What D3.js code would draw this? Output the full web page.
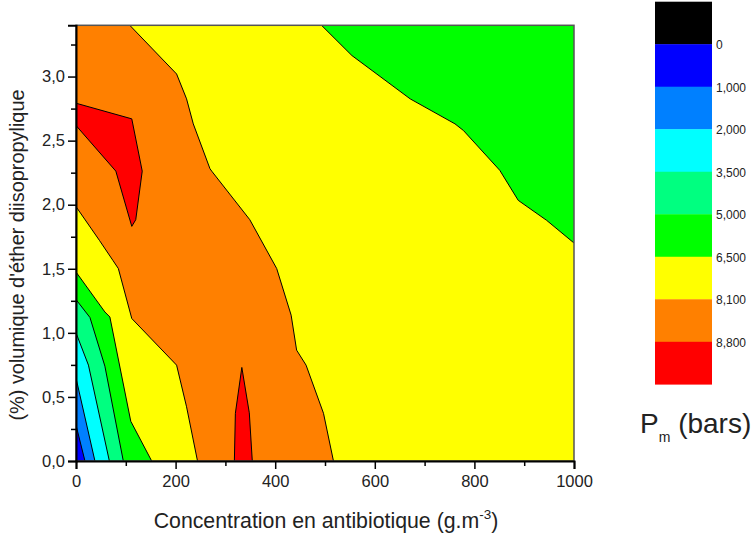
<!DOCTYPE html>
<html><head><meta charset="utf-8">
<script src="https://cdn.jsdelivr.net/npm/d3@7"></script>
<style>body{margin:0;background:#fff}svg{display:block}text{font-family:"Liberation Sans",Arial,Helvetica,sans-serif}</style>
</head><body><svg id="c" width="751" height="536"></svg>
<script>
// ---- data ----
const xTicks = [0, 200, 400, 600, 800, 1000];
const xMinor = [100, 300, 500, 700, 900];
const yTicks = [0, 0.5, 1.0, 1.5, 2.0, 2.5, 3.0];
const yMinor = [0.25, 0.75, 1.25, 1.75, 2.25, 2.75, 3.25];
const legendLabels = ["0", "1,000", "2,000", "3,500", "5,000", "6,500", "8,100", "8,800"];
const legendColors = ["#000000", "#0000ff", "#0080ff", "#00ffff", "#00ff80", "#00ff00", "#ffff00", "#ff8000", "#ff0000"];

// contour lines [concentration, % volume]
const c8100Right = [[108,3.4],[202,3.02],[222,2.826],[235.5,2.631],[269,2.281],[272.5,2.262],[349,1.883],[403,1.502],[432,1.138],[443,0.865],[462,0.748],[497,0.372],[517,0]];
const c8100Left = [[0,1.985],[47,1.722],[74,1.566],[85,1.502],[112,1.112],[202,0.748],[222,0.423],[244,0]];
const c8800TopLeft = [[0,2.792],[112,2.67],[133,2.262],[120,1.883],[112,1.831],[80,2.262],[0,2.618]];
const c8800Spike = [[318,0],[320,0.372],[333,0.73],[348,0.376],[354,0]];
const c6500Right = [[493,3.4],[554,3.164],[671,2.826],[761,2.631],[778,2.579],[851,2.268],[888,2.034],[945,1.878],[1000,1.701]];
const c6500Left = [[0,1.475],[58,1.163],[68,1.124],[110,0.31],[152,0]];
const c5000 = [[0,1.26],[28,1.12],[58,0.74],[95,0]];
const c3500 = [[0,1.0],[25,0.748],[67,0]];
const c2000 = [[0,0.647],[38,0]];
const c1000 = [[0,0.28],[18,0]];

const xMax = 1000, yMax = 3.4;

// ---- drawing ----
const svg = d3.select("#c");
const x = d3.scaleLinear().domain([0, xMax]).range([76, 574]);
const y = d3.scaleLinear().domain([0, yMax]).range([461, 25.3]);

svg.append("clipPath").attr("id","clip").append("rect")
  .attr("x", x(0)).attr("y", y(yMax)).attr("width", x(xMax)-x(0)).attr("height", y(0)-y(yMax));
const g = svg.append("g").attr("clip-path","url(#clip)");

const line = d3.line().x(d => x(d[0])).y(d => y(d[1]));
const poly = pts => line(pts) + "Z";

const regions = [
  {pts: [[0,0],[xMax,0],[xMax,yMax],[0,yMax]], c: legendColors[6]},
  {pts: [[0,yMax], ...c8100Right, ...c8100Left.slice().reverse()], c: legendColors[7]},
  {pts: c8800TopLeft, c: legendColors[8]},
  {pts: c8800Spike, c: legendColors[8]},
  {pts: [...c6500Right, [xMax,yMax]], c: legendColors[5]},
  {pts: [...c6500Left, [0,0]], c: legendColors[5]},
  {pts: [...c5000, [0,0]], c: legendColors[4]},
  {pts: [...c3500, [0,0]], c: legendColors[3]},
  {pts: [...c2000, [0,0]], c: legendColors[2]},
  {pts: [...c1000, [0,0]], c: legendColors[1]}
];
g.selectAll("path.reg").data(regions).join("path").attr("class","reg")
  .attr("d", d => poly(d.pts)).attr("fill", d => d.c).attr("stroke", "none");

const lines = [c8100Right, c8100Left, c8800TopLeft, c8800Spike, c6500Right, c6500Left, c5000, c3500, c2000, c1000];
g.selectAll("path.cl").data(lines).join("path").attr("class","cl")
  .attr("d", d => line(d)).attr("fill","none").attr("stroke","#000").attr("stroke-width",1);

// frame
svg.append("rect").attr("x", x(0)).attr("y", y(yMax)).attr("width", x(xMax)-x(0)).attr("height", y(0)-y(yMax))
  .attr("fill","none").attr("stroke","#555").attr("stroke-width",1.5);

// axes
const fmt = d => d3.format(".1f")(d).replace(".", ",");
svg.append("g").attr("transform", `translate(0,${y(0)})`)
  .call(d3.axisBottom(x).tickValues(xTicks).tickSize(8).tickPadding(6).tickFormat(d3.format("d")));
svg.append("g").attr("transform", `translate(0,${y(0)})`)
  .call(d3.axisBottom(x).tickValues(xMinor).tickSize(5).tickFormat(""))
  .select(".domain").remove();
svg.append("g").attr("transform", `translate(${x(0)},0)`)
  .call(d3.axisLeft(y).tickValues(yTicks).tickSize(8).tickPadding(3).tickFormat(fmt));
svg.append("g").attr("transform", `translate(${x(0)},0)`)
  .call(d3.axisLeft(y).tickValues(yMinor).tickSize(5).tickFormat(""))
  .select(".domain").remove();
svg.selectAll(".domain").attr("stroke","#000").attr("stroke-width",2);
svg.selectAll(".tick line").attr("stroke","#000").attr("stroke-width",1.5);
svg.selectAll(".tick text").attr("font-size",16.5).attr("fill","#222")
  .style("font-family",'"Liberation Sans",Arial,sans-serif');

// axis titles
const xt = svg.append("text").attr("x", 326).attr("y", 528).attr("text-anchor","middle")
  .attr("font-size",21.3).attr("fill","#222");
xt.append("tspan").text("Concentration en antibiotique (g.m");
xt.append("tspan").attr("dy",-9).attr("font-size",13.5).text("-3");
xt.append("tspan").attr("dy",9).text(")");

svg.append("text").attr("transform","translate(24,255) rotate(-90)").attr("text-anchor","middle")
  .attr("font-size",19.9).attr("fill","#222").text("(%) volumique d'éther diisopropylique");

// legend
const ly = d3.scaleLinear().domain([0, legendColors.length]).range([1.7, 384.3]);
const leg = svg.append("g");
leg.selectAll("rect").data(legendColors).join("rect")
  .attr("x", 655).attr("width", 57)
  .attr("y", (d,i) => ly(i)).attr("height", (d,i) => ly(i+1)-ly(i)+0.3)
  .attr("fill", d => d);
leg.selectAll("text").data(legendLabels).join("text")
  .attr("x", 716).attr("y", (d,i) => ly(i+1)+2).attr("dominant-baseline","middle")
  .attr("font-size",12).attr("fill","#222").text(d => d);

const lt = svg.append("text").attr("x", 640).attr("y", 433).attr("font-size",28).attr("fill","#222");
lt.append("tspan").text("P");
lt.append("tspan").attr("dy",9).attr("font-size",14).text("m");
lt.append("tspan").attr("dy",-9).text(" (bars)");
</script></body></html>
